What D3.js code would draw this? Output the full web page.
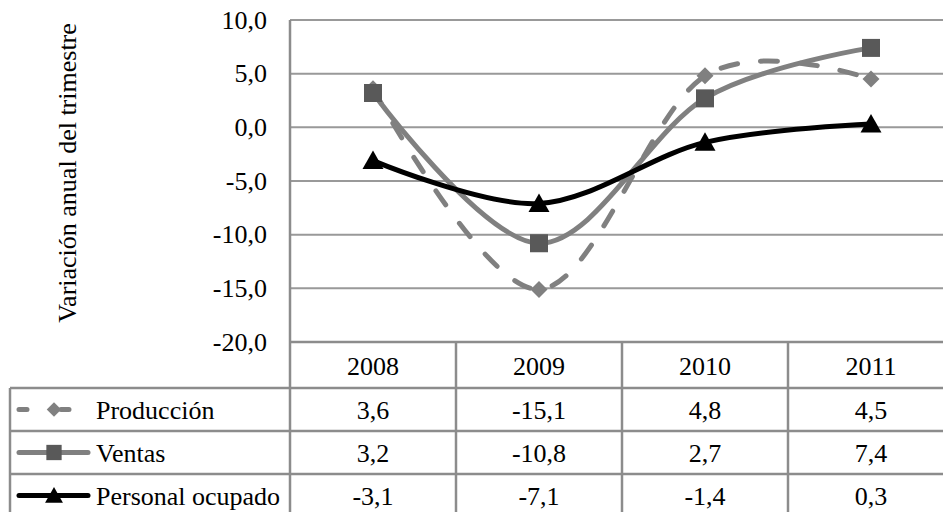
<!DOCTYPE html>
<html>
<head>
<meta charset="utf-8">
<script src="https://cdn.jsdelivr.net/npm/d3@7"></script>
<style>
  body { margin: 0; background: #fff; }
</style>
</head>
<body>
<script>
var years = ["2008", "2009", "2010", "2011"];
var produccion = [3.6, -15.1, 4.8, 4.5];
var ventas = [3.2, -10.8, 2.7, 7.4];
var personal = [-3.1, -7.1, -1.4, 0.3];
var seriesNames = ["Producción", "Ventas", "Personal ocupado"];
var yTicks = [10, 5, 0, -5, -10, -15, -20];

var width = 943,
    height = 512,
    plotLeft = 290,
    plotRight = 954,
    plotTop = 20,
    plotBottom = 342,
    fontSize = 26,
    serifFont = "'Liberation Serif', 'Times New Roman', Tinos, 'Nimbus Roman', 'Nimbus Roman No9 L', FreeSerif, 'DejaVu Serif', 'Noto Serif', serif";

var locale = d3.formatLocale({decimal: ",", thousands: ".", grouping: [3], currency: ["", ""], minus: "-"});
var fmt = locale.format(".1f");

var series = [
  {name: seriesNames[0], values: produccion, color: "#808080", dash: "17,23", marker: "diamond", mfill: "#808080"},
  {name: seriesNames[1], values: ventas, color: "#808080", dash: null, marker: "square", mfill: "#595959"},
  {name: seriesNames[2], values: personal, color: "#000000", dash: null, marker: "triangle", mfill: "#000000"}
];

var x = d3.scaleBand().domain(years).range([plotLeft, plotRight]);
var y = d3.scaleLinear().domain([-20, 10]).range([plotBottom, plotTop]);

var svg = d3.select("body").append("svg")
    .attr("width", width)
    .attr("height", height)
    .style("font-family", serifFont);

function label(sel) {
  sel.style("font-family", serifFont)
     .style("font-size", fontSize + "px")
     .attr("fill", "#000");
}

// gridlines
svg.append("g").selectAll("line")
  .data(yTicks.filter(function(d) { return d > -20; }))
  .enter().append("line")
    .attr("x1", plotLeft).attr("x2", plotRight)
    .attr("y1", function(d) { return y(d); })
    .attr("y2", function(d) { return y(d); })
    .attr("stroke", "#999")
    .attr("stroke-width", 2);

// y axis
var yAxis = d3.axisLeft(y).tickValues(yTicks).tickFormat(fmt).tickSize(0).tickPadding(23);
var gy = svg.append("g").attr("transform", "translate(" + plotLeft + ",0)").call(yAxis);
gy.select(".domain").remove();
gy.attr("font-family", null).attr("font-size", null);
gy.selectAll("text").call(label);

svg.append("text")
  .attr("transform", "translate(67," + ((plotTop + plotBottom) / 2 - 8) + ") rotate(-90)")
  .attr("text-anchor", "middle")
  .attr("dominant-baseline", "central")
  .call(label)
  .text("Variación anual del trimestre");

// data table
var rowTop = [342, 388, 431, 474, 517];
var legLeft = 10;
var tbl = svg.append("g").attr("stroke", "#8c8c8c").attr("stroke-width", 2.5);
tbl.append("line").attr("x1", plotLeft).attr("x2", plotRight).attr("y1", rowTop[0]).attr("y2", rowTop[0]);
rowTop.slice(1).forEach(function(r) {
  tbl.append("line").attr("x1", legLeft).attr("x2", plotRight).attr("y1", r).attr("y2", r);
});
tbl.append("line").attr("x1", legLeft).attr("x2", legLeft).attr("y1", rowTop[1]).attr("y2", height);
tbl.append("line").attr("x1", plotLeft).attr("x2", plotLeft).attr("y1", plotTop).attr("y2", height);
years.slice(1).forEach(function(yr) {
  tbl.append("line").attr("x1", x(yr)).attr("x2", x(yr)).attr("y1", rowTop[0]).attr("y2", height);
});

// header
svg.append("g").selectAll("text")
  .data(years)
  .enter().append("text")
    .attr("x", function(d) { return x(d) + x.bandwidth() / 2; })
    .attr("y", (rowTop[0] + rowTop[1]) / 2 + 1)
    .attr("text-anchor", "middle")
    .attr("dominant-baseline", "central")
    .call(label)
    .text(function(d) { return d; });

function markerPath(type, size) {
  var s = size;
  if (type === "square") return "M" + (-s / 2) + "," + (-s / 2) + "h" + s + "v" + s + "h" + (-s) + "Z";
  if (type === "diamond") return "M0," + (-s / 2) + "L" + (s / 2) + ",0L0," + (s / 2) + "L" + (-s / 2) + ",0Z";
  return "M0," + (-s * 0.48) + "L" + (s / 2) + "," + (s * 0.4) + "L" + (-s / 2) + "," + (s * 0.4) + "Z";
}
var markerSize = {square: 18, diamond: 17, triangle: 21};

var line = d3.line()
  .x(function(d, i) { return x(years[i]) + x.bandwidth() / 2; })
  .y(function(d) { return y(d); })
  .curve(d3.curveCardinal.tension(0));

series.forEach(function(s, si) {
  var rowMid = (rowTop[si + 1] + rowTop[si + 2]) / 2;

  // table values
  svg.append("g").selectAll("text")
    .data(s.values)
    .enter().append("text")
      .attr("x", function(d, i) { return x(years[i]) + x.bandwidth() / 2; })
      .attr("y", rowMid + 1)
      .attr("text-anchor", "middle")
      .attr("dominant-baseline", "central")
      .call(label)
      .text(function(d) { return fmt(d); });

  // legend key
  var lk = svg.append("g");
  lk.append("line")
    .attr("x1", 19).attr("x2", s.dash ? 73 : 88)
    .attr("y1", rowMid).attr("y2", rowMid)
    .attr("stroke", s.color)
    .attr("stroke-width", 5)
    .attr("stroke-linecap", "round")
    .attr("stroke-dasharray", s.dash ? "8,34" : null);
  lk.append("path")
    .attr("d", markerPath(s.marker, markerSize[s.marker] * 0.85))
    .attr("transform", "translate(54," + rowMid + ")")
    .attr("fill", s.mfill);
  lk.append("text")
    .attr("x", 96)
    .attr("y", rowMid + 1)
    .attr("dominant-baseline", "central")
    .call(label)
    .text(s.name);
});

// lines, drawn so black ends on top
series.forEach(function(s) {
  svg.append("path")
    .datum(s.values)
    .attr("d", line)
    .attr("fill", "none")
    .attr("stroke", s.color)
    .attr("stroke-width", 5)
    .attr("stroke-linecap", "round")
    .attr("stroke-dasharray", s.dash);

  svg.append("g").selectAll("path")
    .data(s.values)
    .enter().append("path")
      .attr("d", markerPath(s.marker, markerSize[s.marker]))
      .attr("transform", function(d, i) {
        return "translate(" + (x(years[i]) + x.bandwidth() / 2) + "," + y(d) + ")";
      })
      .attr("fill", s.mfill);
});
</script>
</body>
</html>
